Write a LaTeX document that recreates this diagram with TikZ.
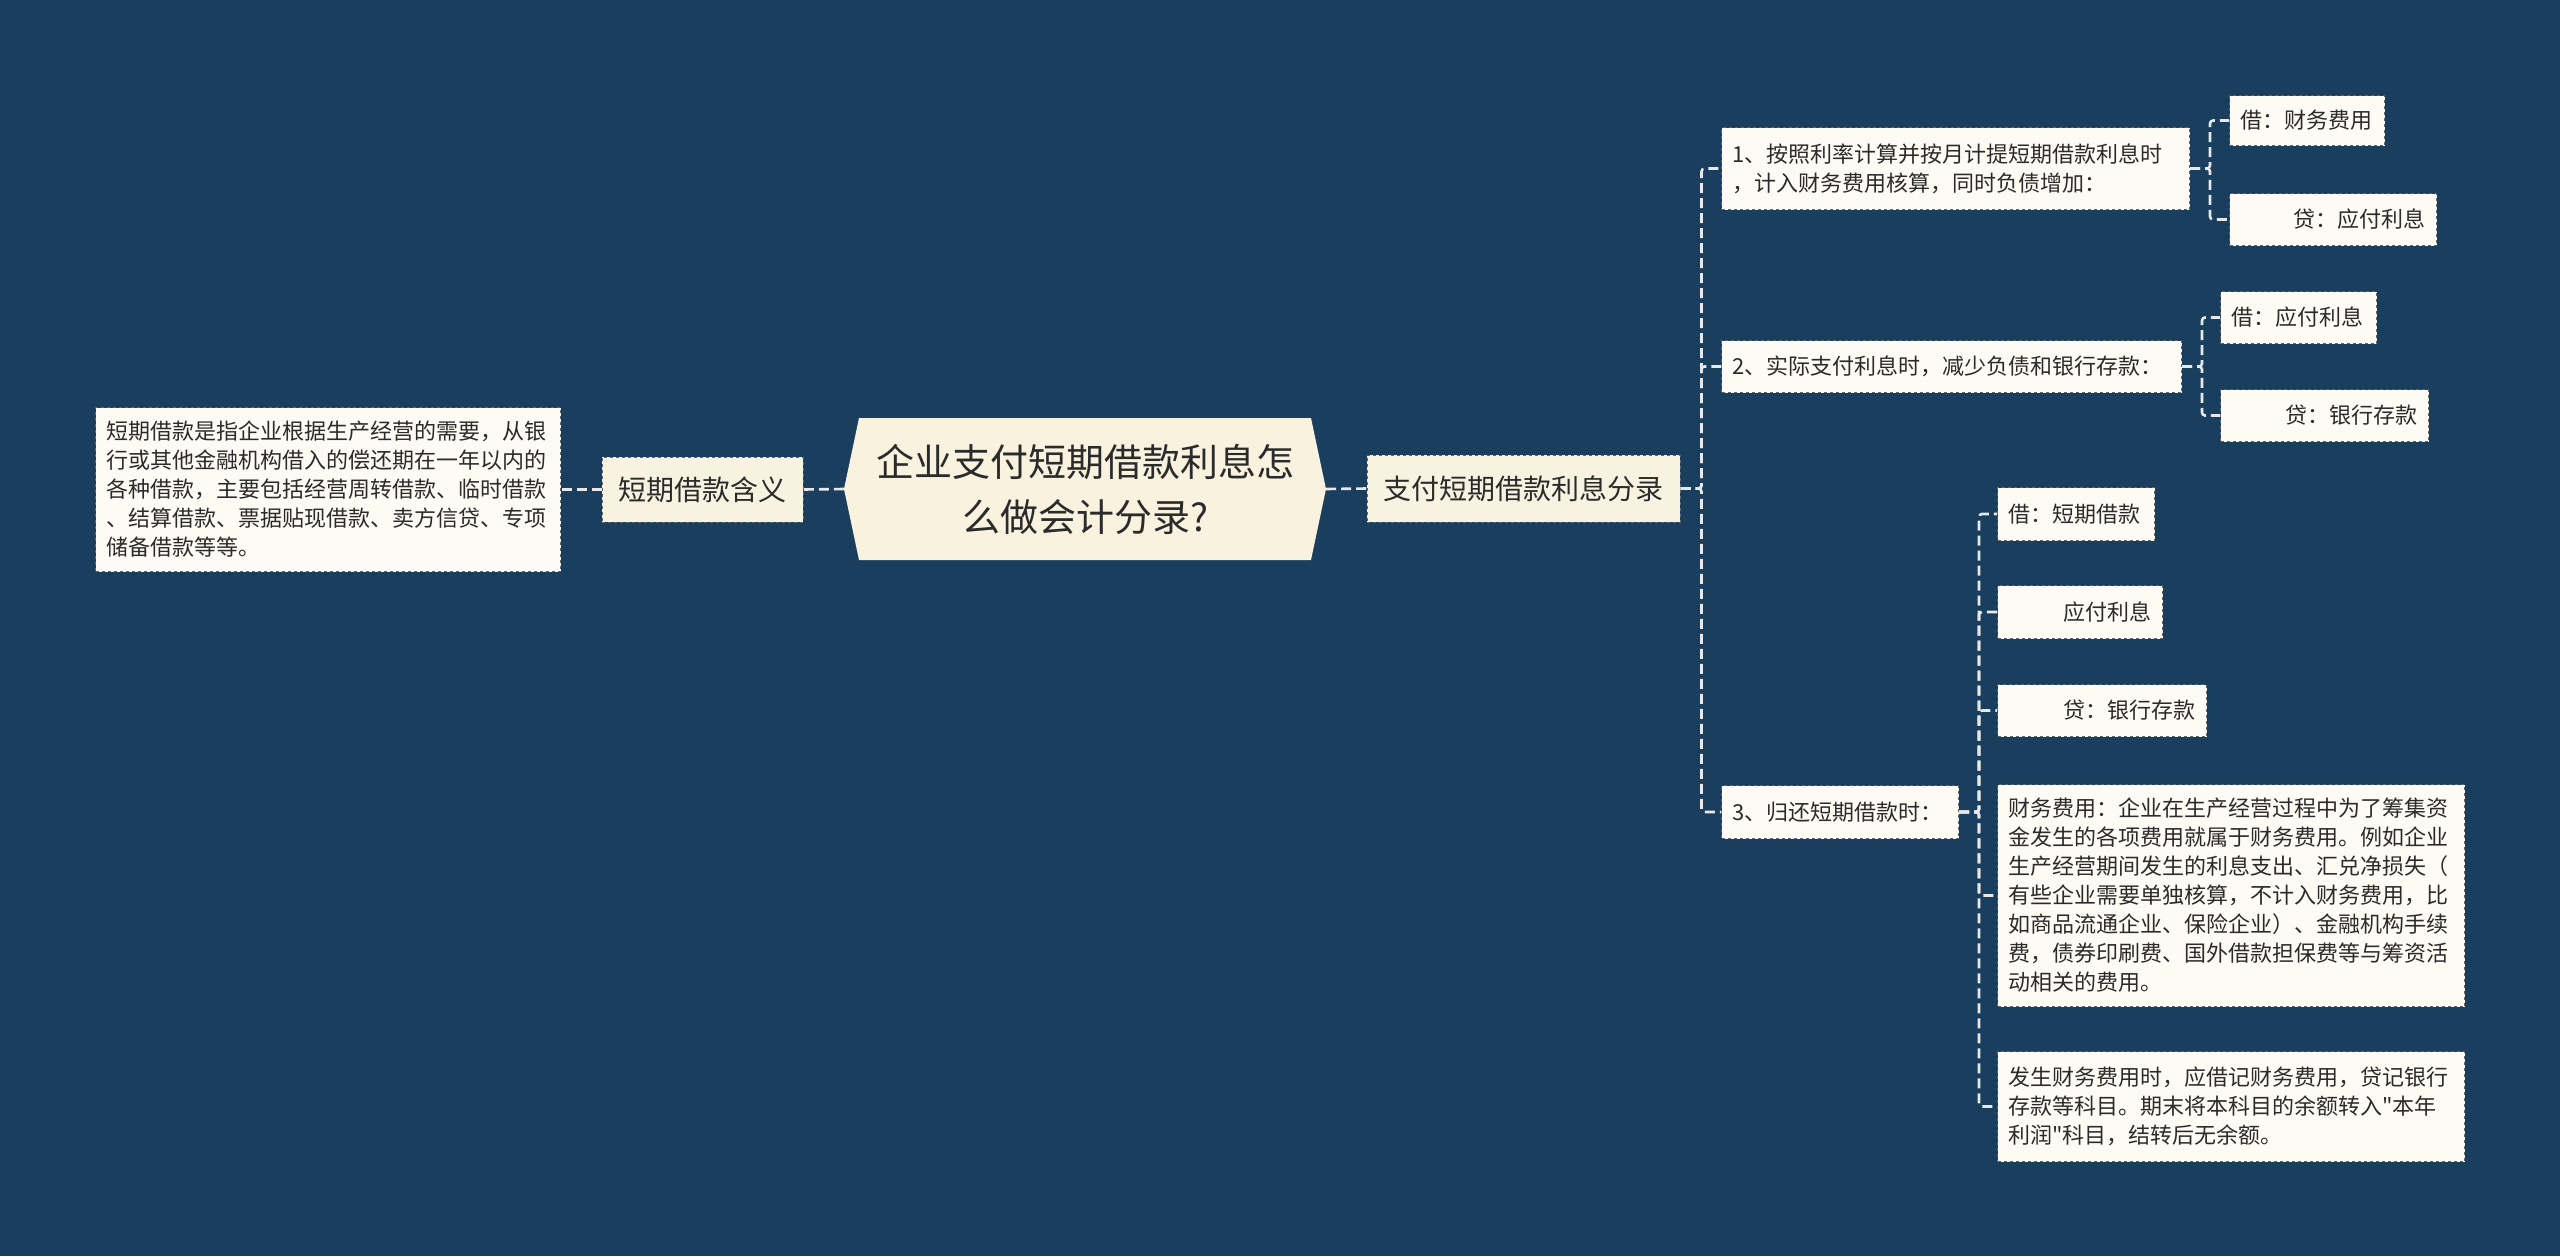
\documentclass[tikz,border=0pt]{standalone}
\usepackage{fontspec}
\setmainfont{Noto Sans CJK SC}[Ligatures=TeXOff]
\usepackage{tikz}

\definecolor{navybg}{HTML}{1A3E5E}
\definecolor{rootfill}{HTML}{F8F2DF}
\definecolor{midfill}{HTML}{F8F3E1}
\definecolor{leaffill}{HTML}{FDFBF3}
\definecolor{ink}{HTML}{2B2B2B}
\definecolor{edgegray}{HTML}{5C6670}
\definecolor{linkwhite}{HTML}{E8E8E8}

\begin{document}
\begin{tikzpicture}[x=1pt, y=-1pt, line join=round,
  link/.style={draw=linkwhite, line width=2.6pt, dash pattern=on 10pt off 5pt, rounded corners=3pt},
  leaf/.style={draw=edgegray, dashed, line width=1pt, fill=leaffill, text=ink,
    font=\fontsize{22}{29}\selectfont, inner xsep=11pt, inner ysep=0pt, anchor=north west},
  midbox/.style={draw=edgegray, dashed, line width=1pt, fill=midfill, text=ink,
    font=\fontsize{28}{34}\selectfont, inner sep=0pt}]

  %% ════ 背景 ════
  \fill[navybg] (0,0) rectangle (2560,1256);

  %% ════ 中心主题（六边形）════
  \fill[rootfill] (844,489) -- (859,418) -- (1311,418) -- (1326,489) -- (1311,560) -- (859,560) -- cycle;
  \node[text=ink, font=\fontsize{38}{55}\selectfont, align=center, inner sep=0pt,
        minimum width=482, minimum height=142] (root) at (1085,489)
        {企业支付短期借款利息怎\\么做会计分录?};

  %% ════ 左侧分支 ════
  \node[midbox, minimum width=201, minimum height=65] (meaning) at (702.5,489.5) {短期借款含义};
  \node[leaf, text width=443, minimum height=164, align=left] (define) at (95,407)
    {短期借款是指企业根据生产经营的需要，从银\\行或其他金融机构借入的偿还期在一年以内的\\各种借款，主要包括经营周转借款、临时借款\\、结算借款、票据贴现借款、卖方信贷、专项\\储备借款等等。};

  %% ════ 右侧分支 ════
  \node[midbox, minimum width=313, minimum height=67] (entry) at (1523.5,488.5) {支付短期借款利息分录};

  \node[leaf, text width=446, minimum height=82, align=left] (step1) at (1721,127)
    {1、按照利率计算并按月计提短期借款利息时\\，计入财务费用核算，同时负债增加：};
  \node[leaf, text width=438, minimum height=52, align=left] (step2) at (1721,340)
    {2、实际支付利息时，减少负债和银行存款：};
  \node[leaf, text width=215, minimum height=53, align=left] (step3) at (1721,785)
    {3、归还短期借款时：};

  % 第 1 步的分录
  \node[leaf, text width=133, minimum height=50, align=left] (dr1) at (2229,95) {借：财务费用};
  \node[leaf, text width=185, minimum height=52, align=right] (cr1) at (2229,193) {贷：应付利息};

  % 第 2 步的分录
  \node[leaf, text width=134, minimum height=52, align=left] (dr2) at (2220,291) {借：应付利息};
  \node[leaf, text width=186, minimum height=52, align=right] (cr2) at (2220,389) {贷：银行存款};

  % 第 3 步的分录与说明
  \node[leaf, text width=135, minimum height=53, align=left] (dr3) at (1997,487) {借：短期借款};
  \node[leaf, text width=143, minimum height=53, align=right] (dr3b) at (1997,585) {应付利息};
  \node[leaf, text width=187, minimum height=52, align=right] (cr3) at (1997,684) {贷：银行存款};
  \node[leaf, text width=445, minimum height=222, align=left] (finexp) at (1997,784)
    {财务费用：企业在生产经营过程中为了筹集资\\金发生的各项费用就属于财务费用。例如企业\\生产经营期间发生的利息支出、汇兑净损失（\\有些企业需要单独核算，不计入财务费用，比\\如商品流通企业、保险企业）、金融机构手续\\费，债券印刷费、国外借款担保费等与筹资活\\动相关的费用。};
  \node[leaf, text width=445, minimum height=110, align=left] (closing) at (1997,1051)
    {发生财务费用时，应借记财务费用，贷记银行\\存款等科目。期末将本科目的余额转入"本年\\利润"科目，结转后无余额。};

  %% ════ 连线 ════
  \draw[link] (root.west) -- (meaning.east);
  \draw[link] (meaning.west) -- (define.east);
  \draw[link] (root.east) -- (entry.west);

  \foreach \kid in {step1,step2,step3}
    \draw[link] (entry.east) -- ++(21,0) |- (\kid.west);
  \foreach \kid in {dr1,cr1}
    \draw[link] (step1.east) -- ++(20,0) |- (\kid.west);
  \foreach \kid in {dr2,cr2}
    \draw[link] (step2.east) -- ++(20,0) |- (\kid.west);
  \foreach \kid in {dr3,dr3b,cr3,finexp,closing}
    \draw[link] (step3.east) -- ++(20,0) |- (\kid.west);

  % 钉死画布
  \pgfresetboundingbox
  \path[use as bounding box] (0,0) rectangle (2560,1256);
\end{tikzpicture}
\end{document}
